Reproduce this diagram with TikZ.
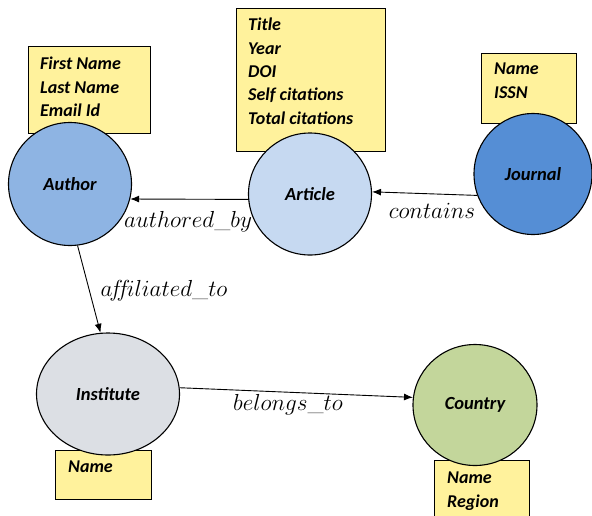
\documentclass[tikz,border=0pt]{standalone}
\usepackage{fix-cm}
\usepackage{fontspec}
\newfontfamily\boxfont{Carlito}
\usetikzlibrary{shapes.geometric,arrows.meta,calc}
\definecolor{attryellow}{HTML}{FFF29C}
\definecolor{authorblue}{HTML}{8EB4E3}
\definecolor{articleblue}{HTML}{C6D9F1}
\definecolor{journalblue}{HTML}{558ED5}
\definecolor{institutegrey}{HTML}{DCDFE4}
\definecolor{countrygreen}{HTML}{C3D69B}
\tikzset{
  entity/.style={ellipse, draw, line width=1.1pt, inner sep=0pt,
    font=\boxfont\bfseries\itshape\fontsize{18.5}{21}\selectfont},
  attrbox/.style={draw, fill=attryellow, line width=1.1pt, inner sep=0pt, anchor=north west},
  attrtext/.style={inner sep=0pt, anchor=north west, align=left,
    font=\boxfont\bfseries\itshape\fontsize{18}{23.3}\selectfont},
  rel/.style={inner sep=0pt, font=\fontsize{23.2}{27}\selectfont},
  edge/.style={-{Latex[length=9pt,width=7pt]}, line width=0.9pt}
}
\begin{document}
\begin{tikzpicture}[x=1pt,y=-1pt]
\useasboundingbox (0,0) rectangle (592,515);
\clip (0,0) rectangle (592,515);
% attribute boxes
\node[attrbox, minimum width=122pt, minimum height=87pt] (authorbox) at (28,46) {};
\node[attrbox, minimum width=149pt, minimum height=143pt] (articlebox) at (236,8) {};
\node[attrbox, minimum width=95pt, minimum height=70pt] (journalbox) at (481,53) {};
\node[attrbox, minimum width=96pt, minimum height=49pt] (institutebox) at (55,450) {};
\node[attrbox, minimum width=95pt, minimum height=70pt] (countrybox) at (434,460) {};
\node[attrtext] (authortext) at ($(authorbox.north west)+(12,11)$) {First Name\\Last Name\\Email Id};
\node[attrtext] (articletext) at ($(articlebox.north west)+(12,10)$) {Title\\Year\\DOI\\Self citations\\Total citations};
\node[attrtext] (journaltext) at ($(journalbox.north west)+(13,10)$) {Name\\ISSN};
\node[attrtext] (institutetext) at ($(institutebox.north west)+(13,11)$) {Name};
\node[attrtext] (countrytext) at ($(countrybox.north west)+(13,12)$) {Name\\Region};
% entities
\node[entity, fill=authorblue, minimum width=123pt, minimum height=123pt] (author) at (70,184) {Author};
\node[entity, fill=articleblue, minimum width=123pt, minimum height=122pt] (article) at (310,194) {Article};
\node[entity, fill=journalblue, minimum width=118pt, minimum height=121pt] (journal) at (533,174) {Journal};
\node[entity, fill=institutegrey, minimum width=143pt, minimum height=122pt] (institute) at (108,394) {Institute};
\node[entity, fill=countrygreen, minimum width=124pt, minimum height=121pt] (country) at (475,405) {Country};
% relations
\draw[edge] (journal.201) -- (article.2);
\draw[edge] (article.185) -- (author.-14);
\draw[edge] (author.-83) -- (institute.97);
\draw[edge] (institute.5) -- (country.173);
% labels
\node[rel] (lcontains) at (432,211) {$contains$};
\node[rel] (lauthored) at (188,222) {$authored\_by$};
\node[rel] (laffiliated) at (164,291) {$a\mkern-2.5mu f\mkern-5mu f\mkern-2.5mu iliated\_to$};
\node[rel] (lbelongs) at (288,405) {$belongs\_to$};
\end{tikzpicture}
\end{document}
